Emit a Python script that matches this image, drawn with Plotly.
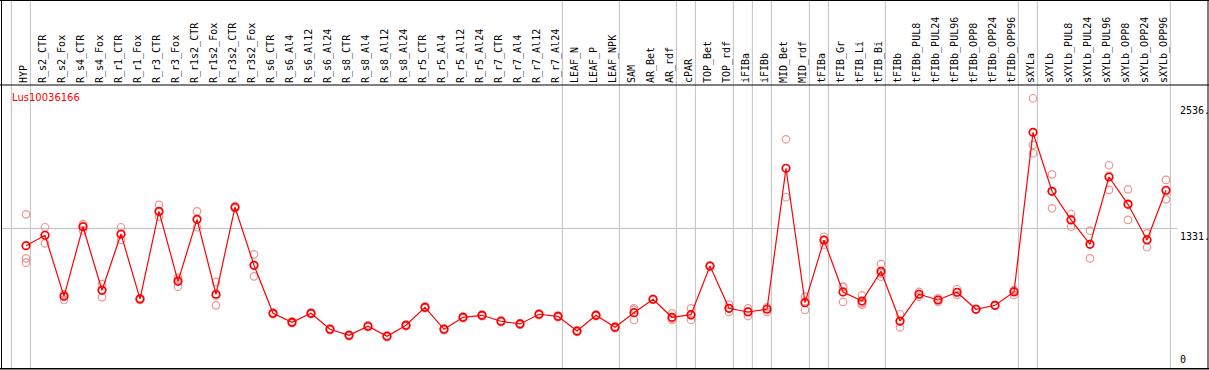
import plotly.graph_objects as go

W, H = 1209, 370

categories = [
    "HYP", "R_s2_CTR", "R_s2_Fox", "R_s4_CTR", "R_s4_Fox", "R_r1_CTR", "R_r1_Fox",
    "R_r3_CTR", "R_r3_Fox", "R_r1s2_CTR", "R_r1s2_Fox", "R_r3s2_CTR", "R_r3s2_Fox",
    "R_s6_CTR", "R_s6_Al4", "R_s6_Al12", "R_s6_Al24", "R_s8_CTR", "R_s8_Al4",
    "R_s8_Al12", "R_s8_Al24", "R_r5_CTR", "R_r5_Al4", "R_r5_Al12", "R_r5_Al24",
    "R_r7_CTR", "R_r7_Al4", "R_r7_Al12", "R_r7_Al24", "LEAF_N", "LEAF_P", "LEAF_NPK",
    "SAM", "AR_Bet", "AR_rdf", "cPAR", "TOP_Bet", "TOP_rdf", "iFIBa", "iFIBb",
    "MID_Bet", "MID_rdf", "tFIBa", "tFIB_Gr", "tFIB_Li", "tFIB_Bi", "tFIBb",
    "tFIBb_PUL8", "tFIBb_PUL24", "tFIBb_PUL96", "tFIBb_OPP8", "tFIBb_OPP24",
    "tFIBb_OPP96", "sXYLa", "sXYLb", "sXYLb_PUL8", "sXYLb_PUL24", "sXYLb_PUL96",
    "sXYLb_OPP8", "sXYLb_OPP24", "sXYLb_OPP96",
]

mean_values = [
    1166, 1266, 680, 1348, 738, 1278, 655, 1496, 824, 1419, 700, 1535, 978,
    517, 431, 517, 364, 306, 393, 297, 402, 575, 364, 479, 498,
    441, 415, 508, 488, 347, 498, 383,
    523, 652, 479, 504, 971, 565, 530, 556,
    1909, 619, 1218, 722, 635, 920, 443,
    700, 645, 719, 556, 594, 722,
    2254, 1688, 1413, 1179, 1825, 1563, 1221, 1698,
]

rep1 = [
    1467, 1343, 700, 1374, 798, 1343, 661, 1557, 859, 1496, 818, 1547, 1083,
    525, 439, 525, 372, 314, 401, 305, 410, 583, 372, 487, 506,
    449, 423, 516, 496, 355, 506, 391,
    565, 657, 517, 565, 976, 600, 565, 575,
    2187, 677, 1252, 767, 690, 990, 508,
    722, 661, 748, 560, 598, 741,
    2581, 1851, 1470, 1310, 1938, 1707, 1285, 1797,
]
rep2 = [
    1045, 1189, 645, 1358, 671, 1221, 645, 1444, 773, 1343, 594, 1525, 872,
    509, 423, 509, 356, 298, 385, 289, 394, 567, 356, 471, 490,
    433, 407, 500, 480, 339, 490, 375,
    453, 647, 453, 453, 966, 530, 491, 530,
    1631, 549, 1227, 626, 600, 869, 383,
    677, 629, 693, 552, 590, 693,
    2132, 1525, 1348, 1045, 1701, 1413, 1151, 1611,
]
rep3 = [
    1003, 1266, 695, 1312, 745, 1270, 659, 1487, 840, 1418, 688, 1533, 979,
    517, 431, 517, 364, 306, 393, 297, 402, 575, 364, 479, 498,
    441, 415, 508, 488, 347, 498, 383,
    551, 652, 467, 494, 971, 565, 534, 563,
    1909, 631, 1176, 773, 615, 901, 438,
    701, 645, 716, 556, 594, 732,
    2053, 1688, 1421, 1182, 1836, 1569, 1227, 1686,
]

# last category of each group (vertical separators drawn right after them)
group_ends = ["HYP", "R_r7_Al24", "LEAF_NPK", "AR_rdf", "cPAR", "TOP_rdf", "iFIBa",
              "iFIBb", "MID_rdf", "tFIBa", "tFIB_Bi", "tFIBb_OPP96", "sXYLa", "sXYLb_OPP96"]

gene = "Lus10036166"
y_tick_vals = [2536, 1331, 0]
y_tick_text = ["2536.", "1331.", "0"]
y_grid_val = 1331

x_idx = list(range(len(categories)))

fig = go.Figure()

rep_x = x_idx * 3
rep_y = rep1 + rep2 + rep3
fig.add_trace(go.Scatter(
    x=rep_x, y=rep_y, mode="markers",
    marker=dict(symbol="circle-open", size=7.5, color="#f09494", line=dict(width=1.2, color="#f09494")),
    hoverinfo="skip", showlegend=False,
))
fig.add_trace(go.Scatter(
    x=x_idx, y=mean_values, mode="lines+markers",
    line=dict(color="#ff0000", width=1.2),
    marker=dict(symbol="circle-open", size=7.5, color="#ff0000", line=dict(width=1.7, color="#ff0000")),
    showlegend=False,
))

# pixel layout
px_left, px_right = 1.5, 1177.0
px_top, px_bottom = 85.0, 367.2
x0_px, step_px = 26.0, 19.0
xr = [(px_left - x0_px) / step_px, (px_right - x0_px) / step_px]

shapes = []
sep_offset = 0.23
sep_start = [-1 + sep_offset]
for name in group_ends:
    sep_start.append(categories.index(name) + sep_offset)
for xv in sep_start:
    shapes.append(dict(type="line", xref="x", yref="paper", x0=xv, x1=xv,
                       y0=1 - 368.5 / H, y1=1, line=dict(color="#c0c0c0", width=1), layer="below"))
# horizontal grid line
shapes.append(dict(type="line", xref="paper", yref="y", x0=px_left / W, x1=1177.5 / W,
                   y0=y_grid_val, y1=y_grid_val, line=dict(color="#c0c0c0", width=1), layer="below"))
# frame
black = dict(color="black", width=1)
shapes += [
    dict(type="line", xref="paper", yref="paper", x0=0, x1=1, y0=1 - 0.5 / H, y1=1 - 0.5 / H, line=black),
    dict(type="line", xref="paper", yref="paper", x0=0, x1=1, y0=1 - 85 / H, y1=1 - 85 / H, line=black),
    dict(type="line", xref="paper", yref="paper", x0=0, x1=1, y0=1 - 368.8 / H, y1=1 - 368.8 / H,
         line=dict(color="black", width=1.5)),
    dict(type="line", xref="paper", yref="paper", x0=1.5 / W, x1=1.5 / W, y0=1 - 369 / H, y1=1, line=black),
    dict(type="line", xref="paper", yref="paper", x0=1208 / W, x1=1208 / W, y0=1 - 369 / H, y1=1, line=black),
]

annotations = [dict(text=gene, xref="paper", yref="paper", x=9.5 / W, y=1 - 97.5 / H,
                    xanchor="left", yanchor="middle", showarrow=False,
                    font=dict(family="DejaVu Sans", size=10, color="#ff0000"))]
for v, t in zip(y_tick_vals, y_tick_text):
    annotations.append(dict(text=t, xref="paper", yref="y", x=1178 / W, y=v,
                            xanchor="left", yanchor=("bottom" if v == 0 else "top"),
                            showarrow=False,
                            font=dict(family="DejaVu Sans Mono", size=10, color="black")))

fig.update_layout(
    width=W, height=H,
    margin=dict(l=0, r=0, t=0, b=0, pad=0),
    paper_bgcolor="white", plot_bgcolor="white",
    xaxis=dict(domain=[px_left / W, px_right / W], range=xr, side="top",
               tickmode="array", tickvals=x_idx, ticktext=categories, tickangle=-90,
               showgrid=False, zeroline=False, showline=False, ticks="",
               ticklabelshift=-2, ticklabelstandoff=1,
               tickfont=dict(family="DejaVu Sans Mono", size=10, color="black"), automargin=False),
    yaxis=dict(domain=[1 - px_bottom / H, 1 - px_top / H], range=[0, 2708],
               showgrid=False, zeroline=False, showline=False, showticklabels=False, ticks=""),
    shapes=shapes, annotations=annotations,
)

fig.write_html("out.html", config={"displayModeBar": False},
               post_script="document.body.style.margin='0';document.body.style.overflow='hidden';")
